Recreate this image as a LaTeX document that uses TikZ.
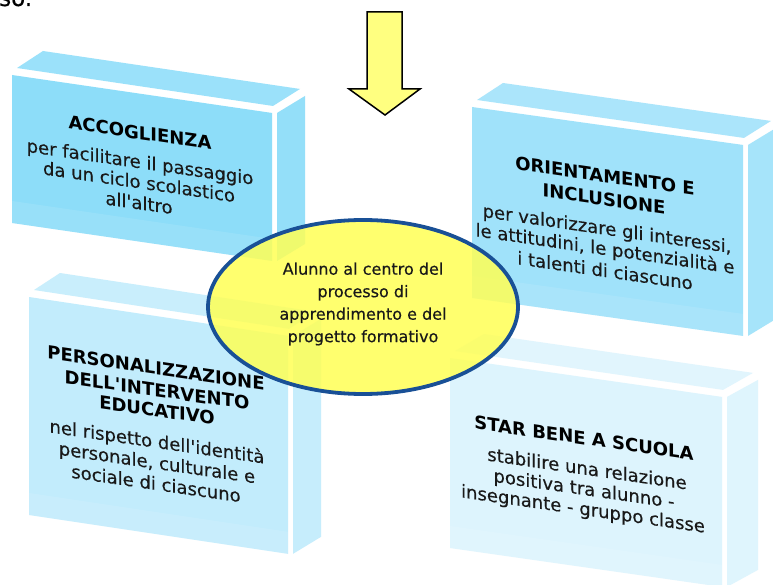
\documentclass[tikz,border=0pt]{standalone}
\usepackage{fontspec}
\setmainfont{DejaVu Sans}
\newfontfamily\heavyfont{DejaVu Sans}[FakeBold=0.35]
\usetikzlibrary{shapes.geometric}
\definecolor{bA}{RGB}{141,221,249}
\definecolor{bB}{RGB}{160,226,250}
\definecolor{bC}{RGB}{194,236,252}
\definecolor{bD}{RGB}{221,244,253}
\definecolor{ellfill}{RGB}{255,255,85}
\definecolor{ellline}{RGB}{25,80,150}
\definecolor{arrfill}{RGB}{255,255,128}
\definecolor{txt}{RGB}{25,25,25}
\tikzset{
  slabtitle/.style={font=\fontsize{18}{22}\selectfont\bfseries, text=black, anchor=base, inner sep=0pt, cm={1,-0.145,0,1,(0,0)}},
  slabtext/.style={font=\heavyfont\fontsize{18}{22}\selectfont, text=txt, anchor=base, inner sep=0pt, cm={1,-0.145,0,1,(0,0)}},
  elltext/.style={font=\heavyfont\fontsize{16}{22.5}\selectfont, text=black!90, align=center, inner sep=0pt},
}
% x0 y0 w h slope depth colour
\newcommand{\slabbox}[7]{%
  \fill[#7] (#1,#2) -- ({#1+#3},{#2+#5*#3}) -- ({#1+#3},{#2+#5*#3+#4}) -- (#1,{#2+#4}) -- cycle;
  \fill[white, opacity=0.1] (#1,{#2+#4-22}) -- ({#1+#3},{#2+#5*#3+#4-22}) -- ({#1+#3},{#2+#5*#3+#4}) -- (#1,{#2+#4}) -- cycle;
  \fill[#7!88!white] ({#1+5},{#2-7}) -- ({#1+3+#6},{#2-24}) -- ({#1+#3+#6},{#2+#5*#3-24}) -- ({#1+#3+1},{#2+#5*#3-7}) -- cycle;
  \fill[#7!94!white] ({#1+#3+5},{#2+#5*#3}) -- ({#1+#3+5+#6},{#2+#5*#3-17}) -- ({#1+#3+5+#6},{#2+#5*#3+#4-17}) -- ({#1+#3+5},{#2+#5*#3+#4}) -- cycle;
}
\begin{document}
\begin{tikzpicture}[x=1pt,y=-1pt]
\useasboundingbox (0,0) rectangle (773,585);
\clip (0,0) rectangle (773,585);
\fill[white] (0,0) rectangle (773,585);

\node[font=\heavyfont\fontsize{23}{27}\selectfont, anchor=base west, inner sep=0pt] (so) at (-1,6) {so.};

% arrow
\draw[fill=arrfill, draw=black, line width=1.5pt, line join=miter] (367,12) -- (402,12) -- (402,89) -- (420,89) -- (385,115) -- (349,89) -- (367,89) -- cycle;

% slabs
\slabbox{12}{75}{260}{148}{0.146}{28}{bA}
\slabbox{472}{107}{271}{191}{0.14}{28}{bB}
\slabbox{29}{297}{259}{218}{0.15}{28}{bC}
\slabbox{450}{358}{272}{190}{0.143}{31}{bD}

% central ellipse
\node[ellipse, draw=ellline, line width=3.8pt, fill=ellfill, fill opacity=0.85, minimum width=310pt, minimum height=174pt, inner sep=0pt] (ell) at (363,307) {};
\node[elltext] (ellt) at (363,304) {Alunno al centro del\\processo di\\apprendimento e del\\progetto formativo};

% box 1
\node[slabtitle] (a0) at (140,139.3) {ACCOGLIENZA};
\node[slabtext] (a1) at (140,168.3) {per facilitare il passaggio};
\node[slabtext] (a2) at (139,188.3) {da un ciclo scolastico};
\node[slabtext] (a3) at (139,209.3) {all\textquotesingle altro};

% box 2
\node[slabtitle] (b0) at (605,182.6) {ORIENTAMENTO E};
\node[slabtitle] (b1) at (604,205.6) {INCLUSIONE};
\node[slabtext] (b2) at (607,235) {per valorizzare gli interessi,};
\node[slabtext] (b3) at (605,255) {le attitudini, le potenzialità e};
\node[slabtext] (b4) at (605,277) {i talenti di ciascuno};

% box 3
\node[slabtitle] (c0) at (156,374.6) {PERSONALIZZAZIONE};
\node[slabtitle] (c1) at (157,396.6) {DELL\textquotesingle INTERVENTO};
\node[slabtitle] (c2) at (157,416.6) {EDUCATIVO};
\node[slabtext] (c3) at (157,448) {nel rispetto dell\textquotesingle identità};
\node[slabtext] (c4) at (157,469) {personale, culturale e};
\node[slabtext] (c5) at (156,490) {sociale di ciascuno};

% box 4
\node[slabtitle] (d0) at (584,444.6) {STAR BENE A SCUOLA};
\node[slabtext] (d1) at (587,475) {stabilire una relazione};
\node[slabtext] (d2) at (584,495) {positiva tra alunno -};
\node[slabtext] (d3) at (583,515) {insegnante - gruppo classe};
\end{tikzpicture}
\end{document}
